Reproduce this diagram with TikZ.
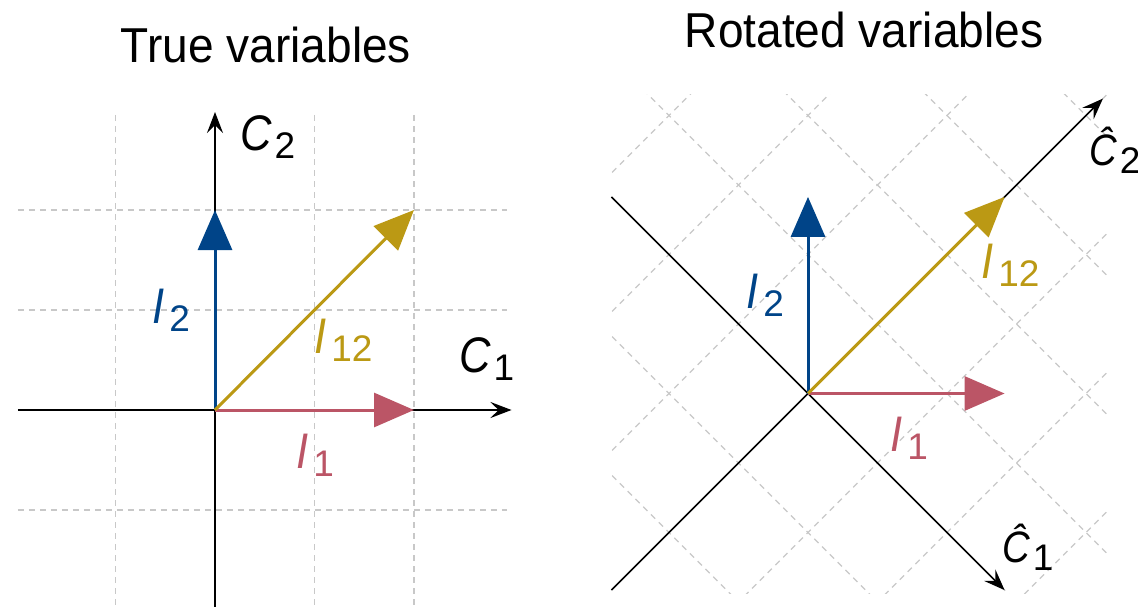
\documentclass[tikz,border=0pt]{standalone}
\usepackage{fontspec}
\setmainfont{Liberation Sans}
\usetikzlibrary{arrows.meta}
\definecolor{cone}{HTML}{BB5566}
\definecolor{ctwo}{HTML}{004488}
\definecolor{cboth}{RGB}{187,153,20}
\definecolor{gridgray}{RGB}{200,200,200}
% #1 letter, #2 subscript, #3 letter size, #4 gap
\newcommand{\symlab}[4]{\scalebox{0.87}[1]{\fontsize{#3}{#3}\selectfont\itshape #1}\kern#4\raisebox{-8pt}{\fontsize{37}{37}\selectfont\upshape #2}}
\newcommand{\ttl}[1]{\scalebox{0.94}[1]{\fontsize{49}{49}\selectfont #1}}
\begin{document}
\begin{tikzpicture}[x=1pt,y=-1pt,
  gridline/.style={draw=gridgray, line width=1.2pt, dash pattern=on 6pt off 5pt},
  axisline/.style={draw=black, line width=1.5pt, -{Stealth[length=21pt,width=16pt,inset=8pt]}},
  vec/.style={line width=3pt, -{Triangle[length=40pt,width=34pt]}},
  lbl/.style={inner sep=0pt, anchor=base west},
  title/.style={inner sep=0pt, anchor=base}]
\useasboundingbox (0,0) rectangle (1138,607);

% titles
\node[title] (t1) at (266,63) {\ttl{True variables}};
\node[title] (t2) at (864,48) {\ttl{Rotated variables}};

% left panel
\begin{scope}[shift={(215,410)}, x=99.5pt, y=100pt]
  \foreach \k in {-1,0,1,2} \draw[gridline] (\k,2.95) -- (\k,-2.1);
  \foreach \k in {-1,0,1,2} \draw[gridline] (-1.98,\k) -- (2.93,\k);
  \coordinate (LO) at (0,0);
  \coordinate (Lxs) at (-1.98,0);
  \coordinate (Lxe) at (2.98,0);
  \coordinate (Lys) at (0,-2.1);
  \coordinate (Lye) at (0,2.98);
  \coordinate (LI1) at (2,0);
  \coordinate (LI2) at (0,2);
  \coordinate (LI12) at (2,2);
  \draw[axisline] (Lxs) -- (Lxe);
  \draw[axisline] (Lys) -- (Lye);
  \draw[vec, cone] (LO) -- (LI1);
  \draw[vec, ctwo] (LO) -- (LI2);
  \draw[vec, cboth] (LO) -- (LI12);
\end{scope}

% right panel
\begin{scope}[shift={(808,393.5)}, x=98.3pt, y=98.3pt]
  \begin{scope}
    \clip (-1.995,-2.03) rectangle (3.05,3.04);
    \foreach \k in {-5,...,5} {
      \draw[gridline] (-5,{-5-(\k)*1.41421}) -- (6,{6-(\k)*1.41421});
      \draw[gridline] (-5,{5+(\k)*1.41421}) -- (6,{-6+(\k)*1.41421});
    }
  \end{scope}
  \coordinate (RO) at (0,0);
  \coordinate (Ras) at (-2,2);
  \coordinate (Rae) at (2,-2);
  \coordinate (Rbs) at (-2,-2);
  \coordinate (Rbe) at (3,3);
  \coordinate (RI1) at (2,0);
  \coordinate (RI2) at (0,2);
  \coordinate (RI12) at (2,2);
  \draw[axisline] (Ras) -- (Rae);
  \draw[axisline] (Rbs) -- (Rbe);
  \draw[vec, cone] (RO) -- (RI1);
  \draw[vec, ctwo] (RO) -- (RI2);
  \draw[vec, cboth] (RO) -- (RI12);
\end{scope}

% labels
\node[lbl, text=black] (lC2) at (240,151) {\symlab{C}{2}{50}{3pt}};
\node[lbl, text=black] (lC1) at (459,372) {\symlab{C}{1}{50}{3pt}};
\node[lbl, text=ctwo] (lI2) at (152,323) {\symlab{I}{2}{50}{5pt}};
\node[lbl, text=cboth] (lI12) at (314,353) {\symlab{I}{12}{50}{5pt}};
\node[lbl, text=cone] (lI1) at (296,468) {\symlab{I}{1}{50}{5pt}};
\node[lbl, text=ctwo] (rI2) at (746,308) {\symlab{I}{2}{50}{5pt}};
\node[lbl, text=cboth] (rI12) at (981,278) {\symlab{I}{12}{50}{5pt}};
\node[lbl, text=cone] (rI1) at (890,451) {\symlab{I}{1}{50}{5pt}};
\node[lbl, text=black] (rC2) at (1089,165) {\symlab{Ĉ}{2}{44}{3pt}};
\node[lbl, text=black] (rC1) at (1002,562) {\symlab{Ĉ}{1}{44}{3pt}};
\end{tikzpicture}
\end{document}
